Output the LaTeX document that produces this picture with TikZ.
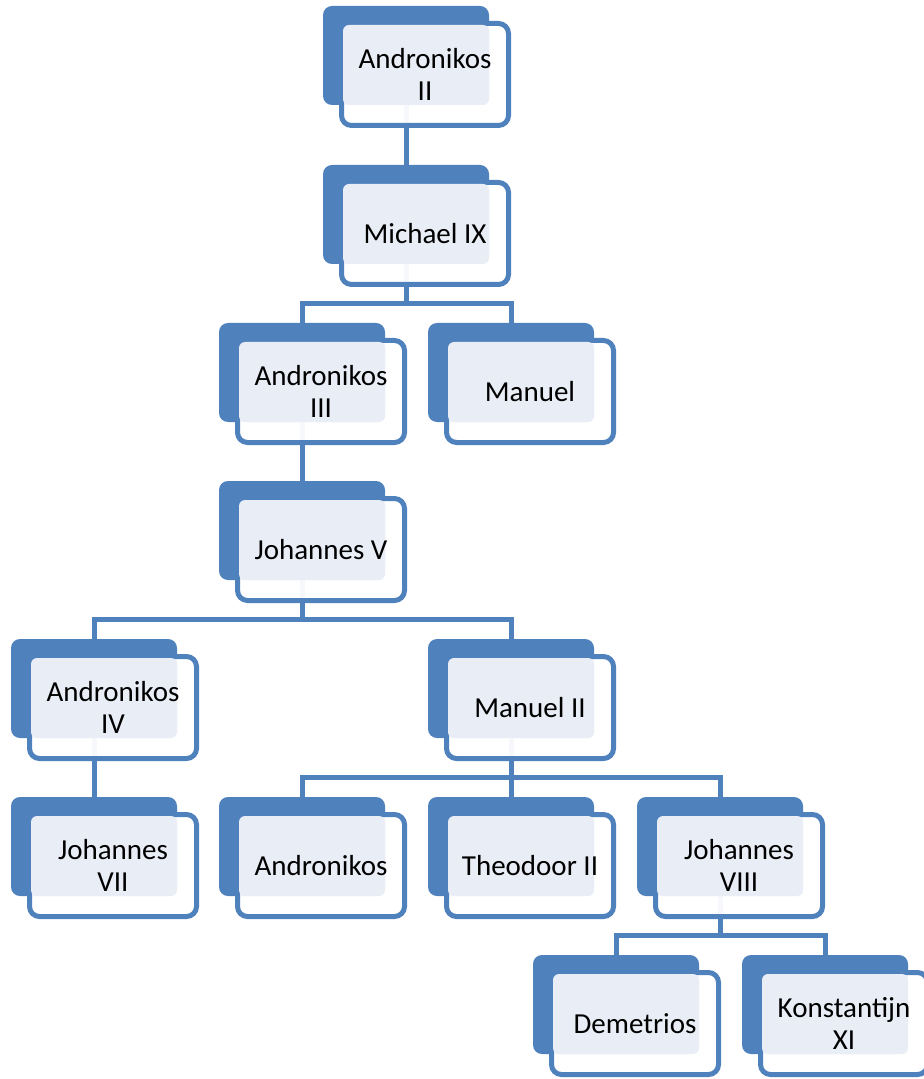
\documentclass[tikz,border=0pt]{standalone}
\usepackage{fontspec}
\setmainfont{Carlito}
\usetikzlibrary{backgrounds}
\definecolor{accblue}{HTML}{4F81BD}
\definecolor{lightfill}{HTML}{E9EEF6}
\tikzset{
  backbox/.style={draw=none,fill=accblue,rounded corners=4.5pt,minimum width=83pt,minimum height=49.5pt,inner sep=0pt},
  frontbox/.style={draw=accblue,line width=2.5pt,fill=white,fill opacity=0.95,draw opacity=1,rounded corners=5pt,minimum width=83.5pt,minimum height=51pt,inner sep=0pt},
  lightbox/.style={draw=none,fill=lightfill,rounded corners=3pt,minimum width=73pt,minimum height=40pt,inner sep=0pt},
  txt/.style={align=center,font=\fontsize{14.5pt}{16pt}\selectfont,text=black,inner sep=0pt},
  conn/.style={draw=accblue,line width=2.5pt}
}
\newcommand\pbox[4]{%
  \node[backbox] (#1) at ({#2+83},{#3+49.5}) {};
  \node[frontbox] (#1f) at ({#2+102},{#3+68.5}) {};
  \node[lightbox] (#1l) at ({#2+93},{#3+59}) {};
  \node[txt] (#1t) at (#1f) {#4};
}
\begin{document}
\begin{tikzpicture}[x=0.5pt,y=-0.5pt]
\useasboundingbox (0,0) rectangle (923,1079);
\pbox{a2}{323}{6}{Andronikos\\II}
\pbox{m9}{323}{165}{Michael IX}
\pbox{a3}{219}{323}{Andronikos\\III}
\pbox{ma}{428}{323}{Manuel}
\pbox{j5}{219}{481}{Johannes V}
\pbox{a4}{11}{639}{Andronikos\\IV}
\pbox{m2}{428}{639}{Manuel II}
\pbox{j7}{11}{797}{Johannes\\VII}
\pbox{an}{219}{797}{Andronikos}
\pbox{t2}{428}{797}{Theodoor II}
\pbox{j8}{637}{797}{Johannes\\VIII}
\pbox{de}{533}{955}{Demetrios}
\pbox{k11}{742}{955}{Konstantijn\\XI}
\begin{pgfonlayer}{background}
\draw[conn] (a2.center) -- (m9.center);
\draw[conn] (m9.center) -- ++(0,89) coordinate (m9bar);
\draw[conn] (m9bar) -| (a3.center);
\draw[conn] (m9bar) -| (ma.center);
\draw[conn] (a3.center) -- (j5.center);
\draw[conn] (j5.center) -- ++(0,89) coordinate (j5bar);
\draw[conn] (j5bar) -| (a4.center);
\draw[conn] (j5bar) -| (m2.center);
\draw[conn] (a4.center) -- (j7.center);
\draw[conn] (m2.center) -- ++(0,89) coordinate (m2bar);
\draw[conn] (m2bar) -| (an.center);
\draw[conn] (m2bar) -| (t2.center);
\draw[conn] (m2bar) -| (j8.center);
\draw[conn] (j8.center) -- ++(0,89) coordinate (j8bar);
\draw[conn] (j8bar) -| (de.center);
\draw[conn] (j8bar) -| (k11.center);
\end{pgfonlayer}
\end{tikzpicture}
\end{document}
